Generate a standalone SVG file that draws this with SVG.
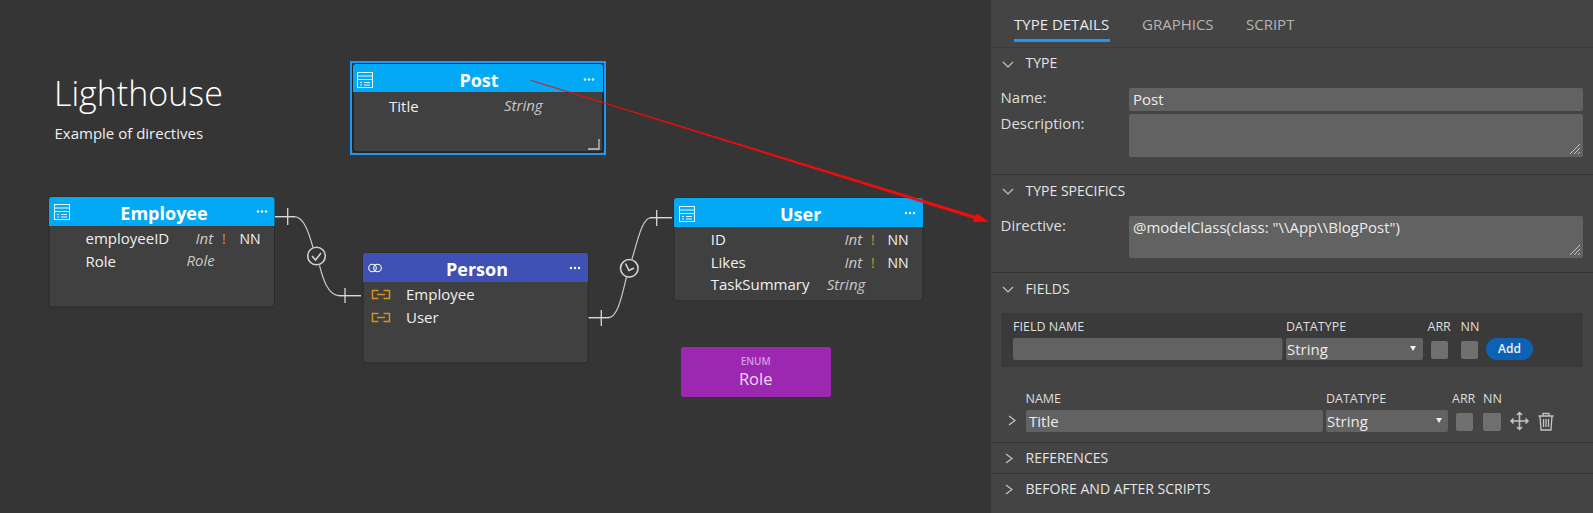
<svg xmlns="http://www.w3.org/2000/svg" width="1593" height="513" viewBox="0 0 1593 513">
<style>
text{font-family:"Open Sans","Noto Sans","Liberation Sans",sans-serif;fill:#f0f0f0}
.body{fill:#404040;stroke:#2a2a2a;stroke-width:1}
.hdr{fill:#03a9f4}
.ttl{font-size:18px;font-weight:700;fill:#fff;text-anchor:middle}
.f{font-size:15px}
.t{font-size:15px;font-style:italic;fill:#c8c8c8}
.ex{font-size:14px;fill:#c9962a}
.nn{font-size:14px}
.sec{font-size:14px;fill:#e4e4e4}
.tab{font-size:15px;fill:#b4b4b4}
.lbl{font-size:15px;fill:#dedede}
.sm{font-size:12.500px;fill:#dedede}
.inp{fill:#626262}
.chk{fill:#707070}
.val{font-size:15px;fill:#ececec}
.div{stroke:#333;stroke-width:1;fill:none}
.chev{stroke:#c4c4c4;stroke-width:1.200;fill:none}
.conn{stroke:#c8c8c8;stroke-width:1.200;fill:none}
.cross{stroke:#d8d8d8;stroke-width:1.300;fill:none}
.ring{fill:#353535;stroke:#d0d0d0;stroke-width:1.600}
.tick{stroke:#d8d8d8;stroke-width:1.500;fill:none}
.ic{stroke:#e8f7ff;stroke-width:1;fill:none}
.key{stroke:#d4921e;stroke-width:1.500;fill:none}
.grip{stroke:#ddd;stroke-width:.8;fill:none}
</style>
<defs>
<g id="tblicon">
<rect x="0.500" y="0.500" width="15" height="15" class="ic"/>
<path d="M1 4H15M1 7.500H15M3 10.500H5M7 10.500H13M3 13H5M7 13H13" class="ic"/>
</g>
<g id="dots" fill="#fff"><circle cx="-4" cy="0" r="1.200"/><circle cx="0" cy="0" r="1.200"/><circle cx="4" cy="0" r="1.200"/></g>
<path id="key" d="M6.500 0.500H0.500V8.500H6.500M11.500 0.500H17.500V8.500H11.500M5 4.500H13" class="key"/>
<path id="chd" d="M0 0L5 5L10 0" class="chev"/>
<path id="chr" d="M0 0L6 4.500L0 9" class="chev"/>
<path id="grip" d="M-10 0L0 -10M-6 0L0 -6M-2 0L0 -2" class="grip"/>
</defs>
<rect width="1593" height="513" fill="#353535"/>

<g id="heading">
<text x="54" y="105.500" font-size="34" font-weight="300" style="fill:#fff">Lighthouse</text>
<text x="54.500" y="139" font-size="15">Example of directives</text>
</g>

<g id="connectors">
<path class="conn" d="M274 216.700H294C304 216.700 309 233 313 247.500M319.500 265.500C323 279 328 295.700 340 295.700H361"/>
<path class="cross" d="M274 216.700H295M287.700 208V225M338 295.700H361M345 288V303"/>
<circle cx="316.500" cy="256" r="8.800" class="ring"/>
<path class="tick" d="M312 256L315.500 260L321 253"/>
<path class="conn" d="M588 317.700H608C618 317.700 622 295 626.500 277M632 259C637 243 642 217.700 651 217.700H672"/>
<path class="cross" d="M588 317.700H609M601.300 310V326M650 217.700H672M656.700 210V226"/>
<circle cx="629.300" cy="268.300" r="8.800" class="ring"/>
<path class="tick" d="M625.500 263.500L629 270.500L634 268"/>
</g>

<g id="node-post">
<rect x="351" y="62" width="254" height="92" fill="none" stroke="#2196f3" stroke-width="2"/>
<rect x="353" y="64" width="250" height="88" rx="3" fill="#404040" stroke="#111" stroke-width="1"/>
<path d="M353 92V67a3 3 0 0 1 3-3H600a3 3 0 0 1 3 3V92Z" class="hdr"/>
<use href="#tblicon" x="357" y="72"/>
<text x="479" y="86.500" class="ttl">Post</text>
<use href="#dots" x="589" y="79.500"/>
<text x="389" y="111.500" class="f">Title</text>
<text x="504" y="111" class="t">String</text>
<path d="M599 139V149H588" fill="none" stroke="#c8c8c8" stroke-width="1.300"/>
</g>

<g id="node-employee">
<rect x="49" y="197" width="225.500" height="110" rx="3" class="body"/>
<path d="M49 226V200a3 3 0 0 1 3-3H271.500a3 3 0 0 1 3 3V226Z" class="hdr"/>
<use href="#tblicon" x="54" y="204"/>
<text x="164" y="220" class="ttl">Employee</text>
<use href="#dots" x="262" y="211.500"/>
<text x="85.500" y="244" class="f">employeeID</text>
<text x="195.500" y="243.500" class="t">Int</text>
<text x="222" y="243.500" class="ex">!</text>
<text x="239.500" y="243.500" class="nn">NN</text>
<text x="85.500" y="267" class="f">Role</text>
<text x="186.500" y="266" class="t">Role</text>
</g>

<g id="node-person">
<rect x="363" y="253" width="225" height="110" rx="3" class="body"/>
<path d="M363 282V256a3 3 0 0 1 3-3H585a3 3 0 0 1 3 3V282Z" fill="#3f51b5"/>
<circle cx="372.500" cy="268" r="3.800" fill="none" stroke="#fff" stroke-width="1.100"/>
<circle cx="377.500" cy="268" r="3.800" fill="none" stroke="#fff" stroke-width="1.100"/>
<text x="477" y="275.500" class="ttl">Person</text>
<use href="#dots" x="575" y="268"/>
<use href="#key" x="372" y="290"/>
<text x="406" y="300" class="f">Employee</text>
<use href="#key" x="372" y="313"/>
<text x="406" y="323" class="f">User</text>
</g>

<g id="node-user">
<rect x="674" y="198" width="249" height="103" rx="3" class="body"/>
<path d="M674 227V201a3 3 0 0 1 3-3H920a3 3 0 0 1 3 3V227Z" class="hdr"/>
<use href="#tblicon" x="679" y="206"/>
<text x="800.700" y="220.500" class="ttl">User</text>
<use href="#dots" x="910" y="213"/>
<text x="710.700" y="245" class="f">ID</text>
<text x="844.500" y="244.500" class="t">Int</text>
<text x="871" y="244.500" class="ex">!</text>
<text x="887.500" y="244.500" class="nn">NN</text>
<text x="710.700" y="268" class="f">Likes</text>
<text x="844.500" y="267.500" class="t">Int</text>
<text x="871" y="267.500" class="ex">!</text>
<text x="887.500" y="267.500" class="nn">NN</text>
<text x="710.700" y="290" class="f">TaskSummary</text>
<text x="826.700" y="289.500" class="t">String</text>
</g>

<g id="node-role">
<rect x="681" y="347" width="150" height="50" rx="2" fill="#9c27b0"/>
<text x="755.700" y="365" font-size="10" font-weight="600" text-anchor="middle" style="fill:#d49ddd">ENUM</text>
<text x="755.700" y="385" font-size="16.500" text-anchor="middle" style="fill:#eed9f1">Role</text>
</g>

<g id="panel">
<rect x="991" y="0" width="602" height="513" fill="#444"/>
<text x="1014" y="30" class="tab" style="fill:#e8e8e8">TYPE DETAILS</text>
<rect x="1014" y="39" width="96" height="3" fill="#2196f3"/>
<text x="1142" y="30" class="tab">GRAPHICS</text>
<text x="1246" y="30" class="tab">SCRIPT</text>
<path d="M991 47.500H1593" stroke="#3b3b3b" fill="none"/>

<use href="#chd" x="1003" y="62"/>
<text x="1025.500" y="68" class="sec">TYPE</text>
<text x="1000.500" y="103" class="lbl">Name:</text>
<rect x="1129" y="88" width="454" height="23" rx="2" class="inp"/>
<text x="1133" y="105" class="val">Post</text>
<text x="1000.500" y="129" class="lbl">Description:</text>
<rect x="1129" y="114" width="454" height="43" rx="2" class="inp"/>
<use href="#grip" x="1580" y="154"/>
<path d="M991 174.500H1593" class="div"/>

<use href="#chd" x="1003" y="189"/>
<text x="1025.500" y="195.500" class="sec">TYPE SPECIFICS</text>
<text x="1000.500" y="231" class="lbl">Directive:</text>
<rect x="1129" y="216" width="454" height="42" rx="2" class="inp"/>
<text x="1133" y="233" class="val">@modelClass(class: "\\App\\BlogPost")</text>
<use href="#grip" x="1580" y="255"/>
<path d="M991 272.500H1593" class="div"/>

<use href="#chd" x="1003" y="287"/>
<text x="1025.500" y="294" class="sec">FIELDS</text>
<rect x="1001" y="313" width="582" height="54" rx="3" fill="#3a3a3a"/>
<text x="1013" y="331" class="sm">FIELD NAME</text>
<text x="1286" y="331" class="sm">DATATYPE</text>
<text x="1427.500" y="331" class="sm">ARR</text>
<text x="1460.500" y="331" class="sm">NN</text>
<rect x="1013" y="338" width="269.500" height="22" rx="2" class="inp"/>
<rect x="1286" y="338" width="137" height="22" rx="2" class="inp"/>
<text x="1287" y="355" class="val">String</text>
<path d="M1410 346H1416L1413 351Z" fill="#f0f0f0"/>
<rect x="1431" y="341" width="17" height="18" rx="2" class="chk"/>
<rect x="1461" y="341" width="17" height="18" rx="2" class="chk"/>
<rect x="1486" y="338" width="47" height="22" rx="11" fill="#0d62b5"/>
<text x="1509.500" y="353" font-size="12" font-weight="600" text-anchor="middle" style="fill:#f0f0f0">Add</text>

<text x="1025.500" y="402.500" class="sm">NAME</text>
<text x="1326" y="402.500" class="sm">DATATYPE</text>
<text x="1452" y="402.500" class="sm">ARR</text>
<text x="1483" y="402.500" class="sm">NN</text>
<use href="#chr" x="1009" y="416"/>
<rect x="1026" y="410" width="297" height="22" rx="2" class="inp"/>
<text x="1029" y="427" class="val">Title</text>
<rect x="1326" y="410" width="122" height="22" rx="2" class="inp"/>
<text x="1327" y="427" class="val">String</text>
<path d="M1436 418H1442L1439 423Z" fill="#f0f0f0"/>
<rect x="1456" y="413" width="17" height="18" rx="2" class="chk"/>
<rect x="1483" y="413" width="18" height="18" rx="2" class="chk"/>
<path d="M1519.500 412.500V429.500M1511 421H1528M1517 415L1519.500 412.500L1522 415M1517 427L1519.500 429.500L1522 427M1513.500 418.500L1511 421L1513.500 423.500M1525.500 418.500L1528 421L1525.500 423.500" fill="none" stroke="#c4c4c4" stroke-width="1.500"/>
<path d="M1538.500 416H1553.500M1543 416V413.500H1549V416M1540 416L1541 430H1551L1552 416M1543.500 419V427M1546 419V427M1548.500 419V427" fill="none" stroke="#c4c4c4" stroke-width="1.300"/>
<path d="M991 442.500H1593" class="div"/>

<use href="#chr" x="1006" y="454"/>
<text x="1025.500" y="463" class="sec">REFERENCES</text>
<path d="M991 473.500H1593" class="div"/>
<use href="#chr" x="1006" y="485"/>
<text x="1025.500" y="494" class="sec">BEFORE AND AFTER SCRIPTS</text>
</g>

<g id="annotation">
<path d="M530.700 80.300L980 217.500L979.300 220.200Z" fill="#f00d0d" stroke="#f00d0d" stroke-width=".6"/>
<path d="M989.300 221.700L972.500 222L977 213.500Z" fill="#f00d0d"/>
</g>
</svg>
